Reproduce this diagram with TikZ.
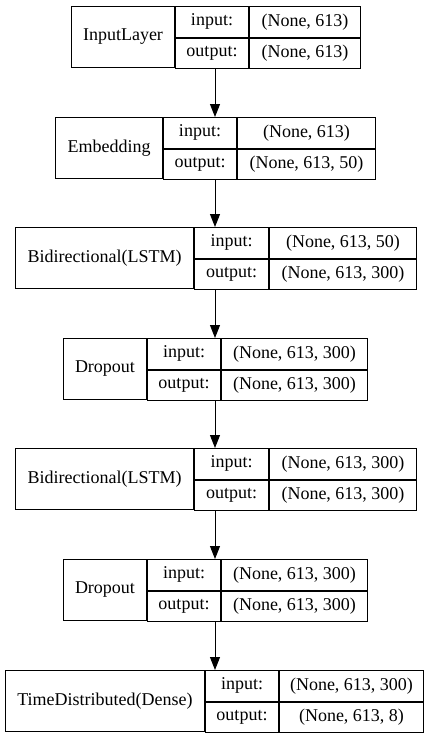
\documentclass[tikz,border=0pt]{standalone}
\usepackage{fontspec}
\setmainfont{Liberation Serif}
\usetikzlibrary{arrows.meta,positioning}

\begin{document}
\begin{tikzpicture}[x=1pt,y=-1pt,>={Triangle[length=13pt,width=10pt]},
    cell/.style={draw,line width=1pt,inner sep=0pt,font=\fontsize{18}{21.6}\selectfont},
    layer cell/.style={cell,minimum height=61,anchor=north west},
    port cell/.style={cell,minimum height=30.5},
    arr/.style={->,line width=1pt}]

    \useasboundingbox (0,0) rectangle (429,737);
    \coordinate (axis) at (215,0);

    % InputLayer
    \node (l1) [layer cell,minimum width=103] at (71,6) {InputLayer};
    \node (l1in) [port cell,minimum width=73,anchor=north west] at (l1.north east) {input:};
    \node (l1out) [port cell,minimum width=73,below=0pt of l1in] {output:};
    \node (l1inv) [port cell,minimum width=111,right=0pt of l1in] {(None, 613)};
    \node (l1outv) [port cell,minimum width=111,right=0pt of l1out] {(None, 613)};

    % Embedding
    \node (l2) [layer cell,minimum width=107] at (55,117) {Embedding};
    \node (l2in) [port cell,minimum width=73,anchor=north west] at (l2.north east) {input:};
    \node (l2out) [port cell,minimum width=73,below=0pt of l2in] {output:};
    \node (l2inv) [port cell,minimum width=138,right=0pt of l2in] {(None, 613)};
    \node (l2outv) [port cell,minimum width=138,right=0pt of l2out] {(None, 613, 50)};

    % Bidirectional(LSTM)
    \node (l3) [layer cell,minimum width=178] at (15,227) {Bidirectional(LSTM)};
    \node (l3in) [port cell,minimum width=74,anchor=north west] at (l3.north east) {input:};
    \node (l3out) [port cell,minimum width=74,below=0pt of l3in] {output:};
    \node (l3inv) [port cell,minimum width=147,right=0pt of l3in] {(None, 613, 50)};
    \node (l3outv) [port cell,minimum width=147,right=0pt of l3out] {(None, 613, 300)};

    % Dropout
    \node (l4) [layer cell,minimum width=83] at (63,338) {Dropout};
    \node (l4in) [port cell,minimum width=73,anchor=north west] at (l4.north east) {input:};
    \node (l4out) [port cell,minimum width=73,below=0pt of l4in] {output:};
    \node (l4inv) [port cell,minimum width=146,right=0pt of l4in] {(None, 613, 300)};
    \node (l4outv) [port cell,minimum width=146,right=0pt of l4out] {(None, 613, 300)};

    % Bidirectional(LSTM)
    \node (l5) [layer cell,minimum width=178] at (15,448) {Bidirectional(LSTM)};
    \node (l5in) [port cell,minimum width=74,anchor=north west] at (l5.north east) {input:};
    \node (l5out) [port cell,minimum width=74,below=0pt of l5in] {output:};
    \node (l5inv) [port cell,minimum width=147,right=0pt of l5in] {(None, 613, 300)};
    \node (l5outv) [port cell,minimum width=147,right=0pt of l5out] {(None, 613, 300)};

    % Dropout
    \node (l6) [layer cell,minimum width=83] at (63,559) {Dropout};
    \node (l6in) [port cell,minimum width=73,anchor=north west] at (l6.north east) {input:};
    \node (l6out) [port cell,minimum width=73,below=0pt of l6in] {output:};
    \node (l6inv) [port cell,minimum width=146,right=0pt of l6in] {(None, 613, 300)};
    \node (l6outv) [port cell,minimum width=146,right=0pt of l6out] {(None, 613, 300)};

    % TimeDistributed(Dense)
    \node (l7) [layer cell,minimum width=199] at (5,670) {TimeDistributed(Dense)};
    \node (l7in) [port cell,minimum width=73,anchor=north west] at (l7.north east) {input:};
    \node (l7out) [port cell,minimum width=73,below=0pt of l7in] {output:};
    \node (l7inv) [port cell,minimum width=144,right=0pt of l7in] {(None, 613, 300)};
    \node (l7outv) [port cell,minimum width=144,right=0pt of l7out] {(None, 613, 8)};

    \draw[arr] (l1out.south -| axis) -- (l2in.north -| axis);
    \draw[arr] (l2out.south -| axis) -- (l3in.north -| axis);
    \draw[arr] (l3out.south -| axis) -- (l4in.north -| axis);
    \draw[arr] (l4out.south -| axis) -- (l5in.north -| axis);
    \draw[arr] (l5out.south -| axis) -- (l6in.north -| axis);
    \draw[arr] (l6out.south -| axis) -- (l7in.north -| axis);
\end{tikzpicture}
\end{document}
